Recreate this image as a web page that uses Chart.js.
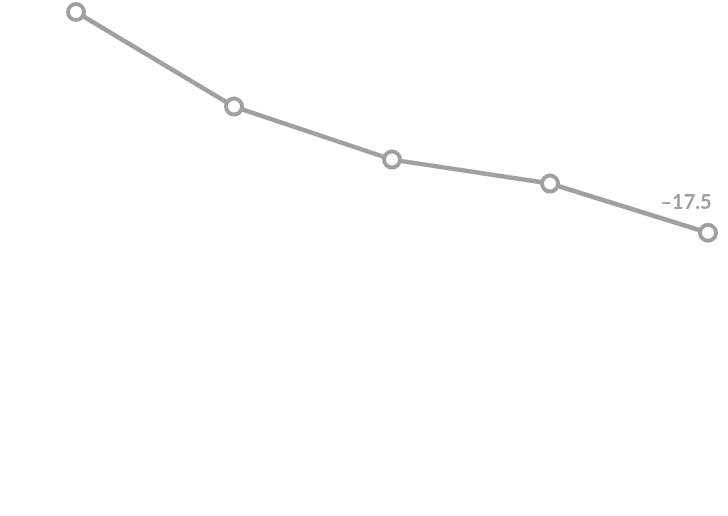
<!DOCTYPE html>
<html>
<head>
<meta charset="utf-8">
<script src="https://cdn.jsdelivr.net/npm/chart.js@4/dist/chart.umd.min.js"></script>
<style>
  html, body { margin: 0; padding: 0; background: #fff; }
  #wrap { width: 728px; height: 516px; position: relative; }
</style>
</head>
<body>
<div id="wrap"><canvas id="lineChart"></canvas></div>
<script>
// values
const categories = ['1', '2', '3', '4', '5'];
const values = [0, -7.5, -11.7, -13.6, -17.5];
const yMin = -39;
const yMax = 0;

let lineColor = '#a0a0a0';

// label only on the last point
const lastLabel = {
    id: 'lastLabel',
    afterDatasetsDraw(chart) {
        const meta = chart.getDatasetMeta(0);
        const i = values.length - 1;
        const pt = meta.data[i];
        const c = chart.ctx;
        c.save();
        c.font = 'bold 20px Lato, "Open Sans", sans-serif';
        c.fillStyle = lineColor;
        c.textAlign = 'center';
        c.textBaseline = 'middle';
        c.fillText('\u2013' + Math.abs(values[i]).toFixed(1), pt.x - 22, pt.y - 30);
        c.restore();
    }
};

const ctx = document.getElementById('lineChart');
new Chart(ctx, {
    type: 'line',
    data: {
        labels: categories,
        datasets: [{
            data: values,
            borderColor: lineColor,
            borderWidth: 4.5,
            backgroundColor: '#fff',
            pointBackgroundColor: '#fff',
            pointBorderColor: lineColor,
            pointBorderWidth: 4,
            pointRadius: 8,
            tension: 0,
            clip: false
        }]
    },
    options: {
        responsive: true,
        maintainAspectRatio: false,
        animation: false,
        layout: { padding: { left: 76, right: 20, top: 12, bottom: 0 } },
        plugins: { legend: { display: false }, tooltip: { enabled: false } },
        scales: {
            x: { display: false, offset: false },
            y: { display: false, min: yMin, max: yMax }
        }
    },
    plugins: [lastLabel]
});
</script>
</body>
</html>
